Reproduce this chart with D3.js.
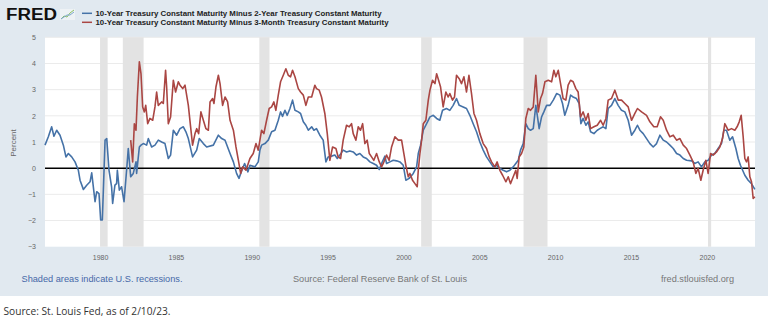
<!DOCTYPE html>
<html>
<head>
<meta charset="utf-8">
<script src="https://cdn.jsdelivr.net/npm/d3@7"></script>
<style>
  body { margin: 0; background: #fff; }
  svg { display: block; font-family: "Liberation Sans", Arial, sans-serif; }
</style>
</head>
<body>
<svg id="chart"></svg>
<script>
// 10y minus 2y spread, [decimal year, percent]
const spread2y = [
  [1976.37,0.88],[1976.59,1.2],[1976.81,1.58],[1976.96,1.22],[1977.14,1.45],[1977.36,1.26],[1977.58,0.88],
  [1977.75,0.43],[1977.91,0.56],[1978.13,0.43],[1978.35,0.24],[1978.57,-0.08],[1978.68,-0.46],[1978.9,-0.81],
  [1979.12,-0.65],[1979.34,-0.52],[1979.45,-0.18],[1979.67,-1.28],[1979.78,-0.9],[1979.93,-0.97],[1980.04,-1.98],
  [1980.15,-1.98],[1980.33,1.07],[1980.44,1.13],[1980.59,-0.08],[1980.76,-0.71],[1980.83,-1.35],[1980.98,-0.65],
  [1981.09,-0.59],[1981.14,-0.08],[1981.27,-0.84],[1981.42,-0.71],[1981.58,-1.28],[1981.75,-0.08],[1981.86,0.75],
  [1982.02,-0.33],[1982.19,-0.2],[1982.37,0.24],[1982.41,-0.2],[1982.59,0.81],[1982.7,0.88],[1982.85,0.94],
  [1983.07,0.88],[1983.18,1.13],[1983.4,0.81],[1983.62,0.88],[1983.84,1.07],[1984.06,1.0],[1984.28,0.94],
  [1984.5,0.37],[1984.65,0.5],[1984.83,1.45],[1985.05,1.26],[1985.27,1.51],[1985.49,1.58],[1985.66,1.39],
  [1985.82,1.13],[1986.1,0.43],[1986.37,0.69],[1986.54,1.13],[1986.81,0.94],[1987.03,0.81],[1987.47,0.88],
  [1987.8,1.26],[1988.02,1.13],[1988.24,1.07],[1988.57,0.56],[1988.79,0.24],[1989.0,-0.2],[1989.16,-0.39],
  [1989.31,-0.14],[1989.53,0.18],[1989.75,-0.14],[1989.88,0.11],[1990.21,0.05],[1990.43,0.24],[1990.54,0.69],
  [1990.65,0.88],[1990.87,0.94],[1991.09,1.07],[1991.31,1.39],[1991.53,1.45],[1991.75,1.83],[1991.9,2.15],
  [1992.03,1.98],[1992.19,2.21],[1992.34,2.02],[1992.52,2.28],[1992.69,2.6],[1992.85,2.21],[1993.07,2.15],
  [1993.22,2.09],[1993.4,1.77],[1993.57,1.64],[1993.73,1.45],[1993.95,1.58],[1994.1,1.45],[1994.27,1.51],
  [1994.49,1.26],[1994.71,1.07],[1994.89,0.24],[1995.04,0.43],[1995.26,0.46],[1995.48,0.5],[1995.64,0.37],
  [1995.81,0.5],[1996.03,0.69],[1996.25,0.62],[1996.47,0.66],[1996.69,0.62],[1996.91,0.5],[1997.13,0.56],
  [1997.35,0.43],[1997.57,0.37],[1997.79,0.24],[1998.01,0.18],[1998.23,0.11],[1998.41,-0.05],[1998.56,0.18],
  [1998.78,0.46],[1998.89,0.18],[1999.11,0.24],[1999.33,0.3],[1999.55,0.28],[1999.77,0.24],[1999.99,0.11],
  [2000.16,-0.46],[2000.38,-0.39],[2000.65,-0.2],[2000.87,0.05],[2000.98,0.56],[2001.13,0.88],[2001.31,1.45],
  [2001.53,1.7],[2001.75,1.96],[2001.97,2.02],[2002.19,1.9],[2002.4,1.83],[2002.58,2.21],[2002.84,2.28],
  [2003.06,2.21],[2003.28,2.4],[2003.5,2.66],[2003.68,2.4],[2003.94,2.34],[2004.16,2.28],[2004.38,2.02],
  [2004.6,1.7],[2004.82,1.39],[2005.04,1.0],[2005.26,0.69],[2005.48,0.43],[2005.7,0.24],[2005.92,0.05],
  [2006.14,0.11],[2006.36,-0.01],[2006.58,-0.08],[2006.8,-0.14],[2007.02,-0.08],[2007.24,0.05],[2007.41,0.18],
  [2007.57,0.3],[2007.72,0.69],[2007.9,0.94],[2008.07,1.7],[2008.23,1.51],[2008.38,1.45],[2008.56,1.51],
  [2008.73,2.4],[2008.84,1.96],[2008.95,1.51],[2009.11,1.96],[2009.26,2.15],[2009.44,2.4],[2009.66,2.4],
  [2009.88,2.6],[2010.1,2.85],[2010.32,2.79],[2010.49,2.47],[2010.64,2.02],[2010.86,2.4],[2011.02,2.79],
  [2011.19,2.72],[2011.41,2.66],[2011.59,2.47],[2011.7,1.7],[2011.85,1.9],[2012.03,1.64],[2012.18,1.77],
  [2012.34,1.39],[2012.56,1.32],[2012.78,1.45],[2012.95,1.51],[2013.17,1.58],[2013.35,1.51],[2013.5,2.28],
  [2013.72,2.4],[2013.94,2.66],[2014.16,2.4],[2014.38,2.21],[2014.6,2.15],[2014.82,1.83],[2015.04,1.26],
  [2015.26,1.45],[2015.43,1.64],[2015.59,1.45],[2015.81,1.32],[2016.03,1.13],[2016.25,0.94],[2016.47,0.81],
  [2016.69,0.94],[2016.91,1.26],[2017.13,1.07],[2017.35,1.0],[2017.57,0.88],[2017.79,0.75],[2018.01,0.56],
  [2018.23,0.5],[2018.45,0.37],[2018.67,0.3],[2019.0,0.28],[2019.21,0.18],[2019.43,0.24],[2019.65,0.05],
  [2019.87,0.24],[2020.09,0.3],[2020.31,0.5],[2020.53,0.56],[2020.75,0.75],[2020.97,0.94],[2021.13,1.45],
  [2021.3,1.45],[2021.52,1.07],[2021.7,1.2],[2021.92,0.75],[2022.07,0.37],[2022.22,0.11],[2022.51,-0.27],
  [2022.73,-0.46],[2022.95,-0.59],[2023.17,-0.81]
];

// 10y minus 3m spread, [decimal year, percent]
const spread3m = [
  [1982.02,1.07],[1982.15,0.24],[1982.26,1.7],[1982.37,1.45],[1982.46,2.72],[1982.59,4.06],[1982.7,3.6],
  [1982.81,2.34],[1982.92,2.15],[1983.01,2.4],[1983.14,1.7],[1983.29,1.9],[1983.47,1.83],[1983.62,2.34],
  [1983.73,2.91],[1983.84,2.4],[1984.06,2.53],[1984.17,2.47],[1984.32,3.74],[1984.39,3.1],[1984.5,1.7],
  [1984.65,1.96],[1984.83,3.36],[1984.98,2.91],[1985.16,3.3],[1985.27,3.17],[1985.45,3.04],[1985.6,3.17],
  [1985.82,2.4],[1985.97,1.58],[1986.1,0.88],[1986.26,1.32],[1986.37,1.51],[1986.5,1.32],[1986.65,2.15],
  [1986.81,1.83],[1986.98,1.51],[1987.14,1.45],[1987.25,2.53],[1987.42,2.66],[1987.51,2.47],[1987.64,3.1],
  [1987.8,3.55],[1987.91,3.23],[1988.08,2.4],[1988.24,2.72],[1988.41,2.53],[1988.57,1.83],[1988.79,1.45],
  [1988.96,0.81],[1989.12,0.3],[1989.27,-0.2],[1989.4,0.05],[1989.62,-0.08],[1989.88,0.37],[1990.1,0.56],
  [1990.28,0.94],[1990.43,0.69],[1990.65,1.45],[1990.8,1.32],[1990.98,1.83],[1991.15,2.28],[1991.31,2.34],
  [1991.46,2.53],[1991.59,2.21],[1991.75,2.79],[1991.9,3.3],[1992.08,3.55],[1992.25,3.8],[1992.41,3.55],
  [1992.56,3.49],[1992.69,3.74],[1992.85,3.49],[1993.07,3.04],[1993.22,2.91],[1993.4,2.79],[1993.57,2.4],
  [1993.73,2.72],[1993.95,2.72],[1994.16,3.17],[1994.27,3.04],[1994.45,2.98],[1994.6,2.72],[1994.82,2.09],
  [1994.98,1.32],[1995.15,0.3],[1995.33,0.81],[1995.55,0.75],[1995.7,0.43],[1995.86,0.37],[1996.03,1.07],
  [1996.25,1.64],[1996.43,1.58],[1996.58,1.7],[1996.69,1.32],[1996.87,1.07],[1997.02,1.58],[1997.17,1.45],
  [1997.31,1.7],[1997.46,0.94],[1997.61,1.07],[1997.75,0.56],[1997.9,0.43],[1998.05,0.3],[1998.23,0.56],
  [1998.41,0.24],[1998.56,0.05],[1998.67,0.18],[1998.89,0.5],[1999.06,0.3],[1999.22,0.81],[1999.44,1.2],
  [1999.66,1.07],[1999.88,1.07],[2000.03,0.56],[2000.16,0.11],[2000.32,-0.33],[2000.43,-0.2],[2000.6,-0.46],
  [2000.76,-0.59],[2000.91,-0.71],[2000.98,-0.08],[2001.09,0.56],[2001.2,1.07],[2001.31,1.7],[2001.48,1.83],
  [2001.64,2.6],[2001.75,2.98],[2001.92,3.36],[2002.08,3.23],[2002.19,3.61],[2002.32,3.36],[2002.45,3.1],
  [2002.62,2.34],[2002.8,2.91],[2002.95,2.72],[2003.06,2.85],[2003.24,2.6],[2003.37,2.72],[2003.5,3.55],
  [2003.68,3.42],[2003.83,3.23],[2003.99,3.49],[2004.16,2.91],[2004.32,3.55],[2004.49,2.85],[2004.65,2.09],
  [2004.82,1.83],[2005.04,1.32],[2005.26,0.94],[2005.48,0.75],[2005.66,0.43],[2005.81,0.24],[2006.03,0.05],
  [2006.18,0.24],[2006.36,-0.08],[2006.54,-0.27],[2006.76,-0.52],[2006.91,-0.33],[2007.06,-0.59],[2007.24,-0.33],
  [2007.41,-0.08],[2007.5,-0.39],[2007.63,0.43],[2007.79,0.56],[2007.94,0.81],[2008.07,1.9],[2008.23,2.28],
  [2008.38,2.21],[2008.56,2.34],[2008.73,3.55],[2008.89,2.15],[2009.04,2.66],[2009.17,2.85],[2009.33,3.3],
  [2009.55,3.36],[2009.77,3.3],[2009.92,3.74],[2010.05,3.49],[2010.21,3.74],[2010.36,3.23],[2010.53,2.66],
  [2010.71,2.6],[2010.86,3.17],[2011.02,3.36],[2011.19,3.3],[2011.37,3.04],[2011.52,2.91],[2011.68,1.96],
  [2011.85,2.15],[2012.03,1.83],[2012.18,2.09],[2012.34,1.51],[2012.56,1.58],[2012.78,1.64],[2013.0,1.83],
  [2013.17,1.64],[2013.35,1.9],[2013.5,2.6],[2013.72,2.66],[2013.94,2.98],[2014.16,2.6],[2014.38,2.6],
  [2014.6,2.47],[2014.82,2.34],[2015.04,1.83],[2015.26,2.09],[2015.43,2.28],[2015.7,2.15],[2016.03,2.02],
  [2016.25,1.77],[2016.51,1.58],[2016.73,1.58],[2016.95,1.96],[2017.13,1.83],[2017.35,1.45],[2017.57,1.2],
  [2017.79,1.26],[2018.01,1.07],[2018.23,1.13],[2018.45,0.88],[2018.67,0.75],[2018.89,0.5],[2019.1,0.24],
  [2019.28,-0.2],[2019.43,-0.01],[2019.61,-0.46],[2019.76,-0.08],[2019.94,0.3],[2020.09,-0.2],[2020.25,0.56],
  [2020.42,0.5],[2020.64,0.62],[2020.86,0.81],[2021.04,1.13],[2021.19,1.7],[2021.41,1.45],[2021.63,1.51],
  [2021.85,1.45],[2022.0,1.58],[2022.14,1.77],[2022.27,2.02],[2022.4,1.2],[2022.51,0.37],[2022.62,0.24],
  [2022.73,0.43],[2022.84,-0.33],[2022.95,-0.52],[2023.06,-1.16],[2023.17,-1.09]
];

// recession periods, [start, end] in decimal years
const recessions = [
  [1980.0, 1980.5], [1981.5, 1982.87], [1990.5, 1991.17],
  [2001.17, 2001.87], [2007.92, 2009.5], [2020.08, 2020.29]
];

const yearTicks = [1980, 1985, 1990, 1995, 2000, 2005, 2010, 2015, 2020];
const percentTicks = [-3, -2, -1, 0, 1, 2, 3, 4, 5];

const seriesNames = [
  "10-Year Treasury Constant Maturity Minus 2-Year Treasury Constant Maturity",
  "10-Year Treasury Constant Maturity Minus 3-Month Treasury Constant Maturity"
];
const seriesColors = ["#4572a7", "#aa4643"];

class SpreadChart {
  constructor(_config) {
    this.config = {
      parentElement: _config.parentElement,
      containerWidth: _config.containerWidth || 768,
      containerHeight: _config.containerHeight || 323,
      plot: { left: 45, right: 755, top: 37.3, bottom: 246.7 }
    }
    this.initVis();
  }

  initVis() {
    let vis = this;
    let p = vis.config.plot;

    vis.svg = d3.select(vis.config.parentElement)
        .attr('width', vis.config.containerWidth)
        .attr('height', vis.config.containerHeight);

    // FRED light panel behind the graph
    vis.svg.append('rect')
        .attr('x', 0).attr('y', 0)
        .attr('width', vis.config.containerWidth)
        .attr('height', 296)
        .attr('fill', '#e1e9f0');

    vis.xScale = d3.scaleLinear()
        .domain([1976.37, 2023.18])
        .range([p.left, p.right]);

    vis.yScale = d3.scaleLinear()
        .domain([-3, 5])
        .range([p.bottom, p.top]);

    vis.svg.append('rect')
        .attr('x', p.left).attr('y', p.top)
        .attr('width', p.right - p.left)
        .attr('height', p.bottom - p.top)
        .attr('fill', '#fff');

    // grid lines
    vis.svg.selectAll('.grid')
        .data(percentTicks.filter(d => d != 0 && d != -3))
        .join('line')
        .attr('class', 'grid')
        .attr('x1', p.left).attr('x2', p.right)
        .attr('y1', d => vis.yScale(d)).attr('y2', d => vis.yScale(d))
        .attr('stroke', '#ebebeb')
        .attr('stroke-width', 1);

    // recession bars
    vis.svg.selectAll('.rec')
        .data(recessions)
        .join('rect')
        .attr('class', 'rec')
        .attr('x', d => vis.xScale(d[0]))
        .attr('width', d => vis.xScale(d[1]) - vis.xScale(d[0]))
        .attr('y', p.top)
        .attr('height', p.bottom - p.top)
        .attr('fill', '#e3e3e3');

    // axes (labels only, FRED style)
    let xAxis = d3.axisBottom(vis.xScale).tickValues(yearTicks).tickFormat(d3.format('d')).tickSize(0).tickPadding(8);
    let xg = vis.svg.append('g')
        .attr('transform', `translate(0,${p.bottom})`)
        .call(xAxis);
    xg.select('.domain').remove();
    xg.selectAll('text').attr('fill', '#666').style('font-size', '7px');

    let yAxis = d3.axisLeft(vis.yScale).tickValues(percentTicks).tickSize(0).tickPadding(9);
    let yg = vis.svg.append('g')
        .attr('transform', `translate(${p.left},0)`)
        .call(yAxis);
    yg.select('.domain').remove();
    yg.selectAll('text').attr('fill', '#666').style('font-size', '7px');

    vis.svg.append('text')
        .attr('transform', `translate(15.5,${(p.top + p.bottom) / 2 + 1}) rotate(-90)`)
        .attr('text-anchor', 'middle')
        .attr('fill', '#666')
        .style('font-size', '8px')
        .text('Percent');

    // zero line
    vis.svg.append('line')
        .attr('x1', p.left).attr('x2', p.right)
        .attr('y1', vis.yScale(0)).attr('y2', vis.yScale(0))
        .attr('stroke', '#000')
        .attr('stroke-width', 1.5);

    vis.line = d3.line()
        .x(d => vis.xScale(d[0]))
        .y(d => vis.yScale(d[1]));

    vis.svg.selectAll('.series')
        .data([spread2y, spread3m])
        .join('path')
        .attr('class', 'series')
        .attr('fill', 'none')
        .attr('stroke', (d, i) => seriesColors[i])
        .attr('stroke-width', 1.6)
        .attr('stroke-linejoin', 'round')
        .attr('d', d => vis.line(d));

    // header: logo + legend
    vis.svg.append('text')
        .attr('x', 6).attr('y', 20)
        .attr('font-weight', 'bold')
        .attr('fill', '#111')
        .attr('textLength', 51)
        .attr('lengthAdjust', 'spacingAndGlyphs')
        .style('font-size', '16px')
        .text('FRED');
    vis.svg.append('rect')
        .attr('x', 60).attr('y', 9).attr('width', 15).attr('height', 11)
        .attr('fill', '#eef2f5');
    vis.svg.append('polyline')
        .attr('points', '61,19 64,16 67,17 70,13 74,10')
        .attr('fill', 'none').attr('stroke', '#8cc063').attr('stroke-width', 1);
    vis.svg.append('polyline')
        .attr('points', '61,19 64,17 67,15 70,15 74,12')
        .attr('fill', 'none').attr('stroke', '#7fa8d0').attr('stroke-width', 1);

    let leg = vis.svg.selectAll('.leg')
        .data(seriesNames)
        .join('g')
        .attr('class', 'leg')
        .attr('transform', (d, i) => `translate(0,${13.3 + i * 9})`);
    leg.append('line')
        .attr('x1', 82).attr('x2', 92)
        .attr('stroke', (d, i) => seriesColors[i])
        .attr('stroke-width', 1.5);
    leg.append('text')
        .attr('x', 95.5).attr('y', 2.7)
        .attr('fill', '#222')
        .attr('font-weight', 'bold')
        .attr('textLength', (d, i) => i == 0 ? 286 : 293)
        .attr('lengthAdjust', 'spacingAndGlyphs')
        .style('font-size', '7.6px')
        .text(d => d);

    // footer
    vis.svg.append('text')
        .attr('x', 21.5).attr('y', 282.3)
        .attr('fill', '#4668a8')
        .attr('textLength', 161)
        .attr('lengthAdjust', 'spacingAndGlyphs')
        .style('font-size', '8.8px')
        .text('Shaded areas indicate U.S. recessions.');
    vis.svg.append('text')
        .attr('x', 293).attr('y', 282.3)
        .attr('fill', '#777')
        .attr('textLength', 174)
        .attr('lengthAdjust', 'spacingAndGlyphs')
        .style('font-size', '8.8px')
        .text('Source: Federal Reserve Bank of St. Louis');
    vis.svg.append('text')
        .attr('x', 661).attr('y', 282.3)
        .attr('fill', '#777')
        .attr('textLength', 73)
        .attr('lengthAdjust', 'spacingAndGlyphs')
        .style('font-size', '8.8px')
        .text('fred.stlouisfed.org');

    vis.svg.append('text')
        .attr('x', 3.5).attr('y', 314.5)
        .attr('fill', '#333')
        .attr('textLength', 167)
        .attr('lengthAdjust', 'spacingAndGlyphs')
        .style('font-family', '"Open Sans", sans-serif')
        .style('font-size', '11px')
        .text('Source: St. Louis Fed, as of 2/10/23.');
  }
}

new SpreadChart({ parentElement: '#chart' });
</script>
</body>
</html>
